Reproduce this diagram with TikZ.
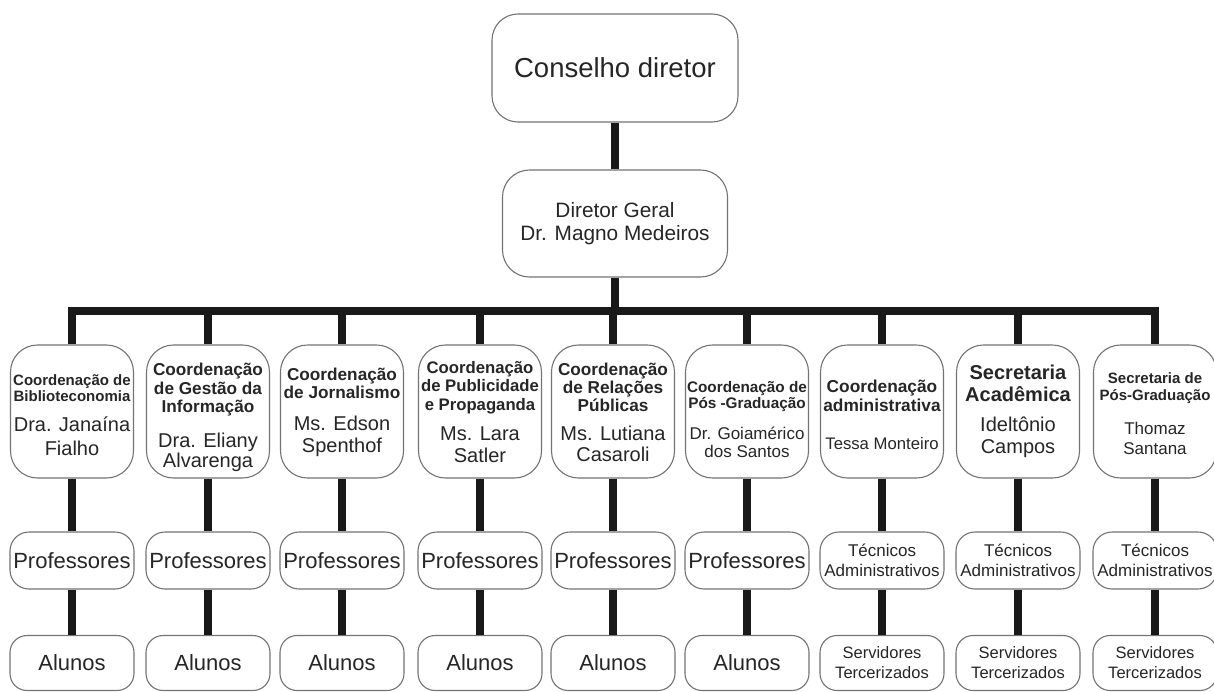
\documentclass[tikz,border=0pt]{standalone}
\usepackage{fontspec}
\setmainfont{Liberation Sans}
\newcommand{\cab}[3]{{\fontsize{#1}{#2}\selectfont\bfseries\begin{tabular}{@{}c@{}}#3\end{tabular}}}
\newcommand{\nome}[3]{{\fontsize{#1}{#2}\selectfont\begin{tabular}{@{}c@{}}#3\end{tabular}}}
\newcommand{\setor}[4]{\begin{tabular}{@{}c@{}}\noalign{\vskip#1}#2\\\noalign{\vskip#3}#4\end{tabular}}
\begin{document}
\begin{tikzpicture}[x=1pt, y=-1pt,
	caixa/.style={draw=black!55, line width=1.1pt, fill=white, inner sep=0pt, align=center, text=black!85},
	setor/.style={caixa, rounded corners=27pt, minimum width=123pt, minimum height=133pt},
	grupo/.style={caixa, rounded corners=19pt, minimum width=124pt, minimum height=57pt},
	turma/.style={caixa, rounded corners=17pt, minimum width=124pt, minimum height=55pt},
	tronco/.style={line width=7.5pt, black!90}]
		\useasboundingbox (0,0) rectangle (1214,691);
		\node[caixa, rounded corners=26pt, minimum width=246pt, minimum height=108pt, font=\fontsize{27.5}{31}\selectfont] (conselho) at (615,68) {Conselho diretor};
		\node[caixa, rounded corners=27pt, minimum width=225pt, minimum height=107pt, font=\fontsize{20.8}{23}\selectfont] (diretor) at (615,223.5) {Diretor Geral\\Dr. Magno Medeiros};
		\coordinate (barra) at (615,311);
		% coordenacoes e secretarias
		\node[setor] (s1) at (72,411.5) {\setor{12.6pt}{\cab{15}{16.7}{Coordenação de\\Biblioteconomia}}{7.5pt}{\nome{20}{24}{Dra. Janaína\\Fialho}}};
		\node[setor] (s2) at (208,411.5) {\setor{13.4pt}{\cab{17.2}{18.3}{Coordenação\\de Gestão da\\Informação}}{14.9pt}{\nome{20}{19.4}{Dra. Eliany\\Alvarenga}}};
		\node[setor] (s3) at (342,411.5) {\setor{3.2pt}{\cab{17.2}{18.3}{Coordenação\\de Jornalismo}}{10.6pt}{\nome{20}{22.3}{Ms. Edson\\Spenthof}}};
		\node[setor] (s4) at (480,411.5) {\setor{6.8pt}{\cab{16.7}{18.3}{Coordenação\\de Publicidade\\e Propaganda}}{10.3pt}{\nome{20}{21.7}{Ms. Lara\\Satler}}};
		\node[setor] (s5) at (613,411.5) {\setor{7pt}{\cab{17.2}{18.3}{Coordenação\\de Relações\\Públicas}}{9.3pt}{\nome{20}{20.7}{Ms. Lutiana\\Casaroli}}};
		\node[setor] (s6) at (747,411.5) {\setor{21.4pt}{\cab{15.3}{16}{Coordenação de\\Pós -Graduação}}{13.4pt}{\nome{17}{18.3}{Dr. Goiamérico\\dos Santos}}};
		\node[setor] (s7) at (882,411.5) {\setor{11pt}{\cab{17.3}{19.3}{Coordenação\\administrativa}}{18.4pt}{\nome{16.7}{19.2}{Tessa Monteiro}}};
		\node[setor] (s8) at (1018,411.5) {\setor{1.4pt}{\cab{20}{22.3}{Secretaria\\Acadêmica}}{7.7pt}{\nome{20}{22.3}{Ideltônio\\Campos}}};
		\node[setor] (s9) at (1155,411.5) {\setor{9.2pt}{\cab{15}{17.3}{Secretaria de\\Pós-Graduação}}{15.1pt}{\nome{17}{20}{Thomaz\\Santana}}};
		% professores e tecnicos
		\node[grupo, font=\fontsize{22}{25}\selectfont] (p1) at (72,560.5) {Professores};
		\node[grupo, font=\fontsize{22}{25}\selectfont] (p2) at (208,560.5) {Professores};
		\node[grupo, font=\fontsize{22}{25}\selectfont] (p3) at (342,560.5) {Professores};
		\node[grupo, font=\fontsize{22}{25}\selectfont] (p4) at (480,560.5) {Professores};
		\node[grupo, font=\fontsize{22}{25}\selectfont] (p5) at (613,560.5) {Professores};
		\node[grupo, font=\fontsize{22}{25}\selectfont] (p6) at (747,560.5) {Professores};
		\node[grupo, font=\fontsize{17}{19.6}\selectfont] (p7) at (882,560.5) {Técnicos\\Administrativos};
		\node[grupo, font=\fontsize{17}{19.6}\selectfont] (p8) at (1018,560.5) {Técnicos\\Administrativos};
		\node[grupo, font=\fontsize{17}{19.6}\selectfont] (p9) at (1155,560.5) {Técnicos\\Administrativos};
		% alunos e servidores
		\node[turma, font=\fontsize{22}{25}\selectfont] (a1) at (72,663) {Alunos};
		\node[turma, font=\fontsize{22}{25}\selectfont] (a2) at (208,663) {Alunos};
		\node[turma, font=\fontsize{22}{25}\selectfont] (a3) at (342,663) {Alunos};
		\node[turma, font=\fontsize{22}{25}\selectfont] (a4) at (480,663) {Alunos};
		\node[turma, font=\fontsize{22}{25}\selectfont] (a5) at (613,663) {Alunos};
		\node[turma, font=\fontsize{22}{25}\selectfont] (a6) at (747,663) {Alunos};
		\node[turma, font=\fontsize{16.5}{20}\selectfont] (a7) at (882,663) {Servidores\\Tercerizados};
		\node[turma, font=\fontsize{16.5}{20}\selectfont] (a8) at (1018,663) {Servidores\\Tercerizados};
		\node[turma, font=\fontsize{16.5}{20}\selectfont] (a9) at (1155,663) {Servidores\\Tercerizados};
		% ligacoes
		\draw[tronco] (conselho) -- (diretor);
		\draw[tronco] (diretor) -- (barra);
		\draw[tronco] (s1.north) |- (barra) -| (s9.north);
		\draw[tronco] (s2) -- (s2 |- barra);
		\draw[tronco] (s3) -- (s3 |- barra);
		\draw[tronco] (s4) -- (s4 |- barra);
		\draw[tronco] (s5) -- (s5 |- barra);
		\draw[tronco] (s6) -- (s6 |- barra);
		\draw[tronco] (s7) -- (s7 |- barra);
		\draw[tronco] (s8) -- (s8 |- barra);
		\draw[tronco] (s1) -- (p1);
		\draw[tronco] (s2) -- (p2);
		\draw[tronco] (s3) -- (p3);
		\draw[tronco] (s4) -- (p4);
		\draw[tronco] (s5) -- (p5);
		\draw[tronco] (s6) -- (p6);
		\draw[tronco] (s7) -- (p7);
		\draw[tronco] (s8) -- (p8);
		\draw[tronco] (s9) -- (p9);
		\draw[tronco] (p1) -- (a1);
		\draw[tronco] (p2) -- (a2);
		\draw[tronco] (p3) -- (a3);
		\draw[tronco] (p4) -- (a4);
		\draw[tronco] (p5) -- (a5);
		\draw[tronco] (p6) -- (a6);
		\draw[tronco] (p7) -- (a7);
		\draw[tronco] (p8) -- (a8);
		\draw[tronco] (p9) -- (a9);
\end{tikzpicture}
\end{document}
